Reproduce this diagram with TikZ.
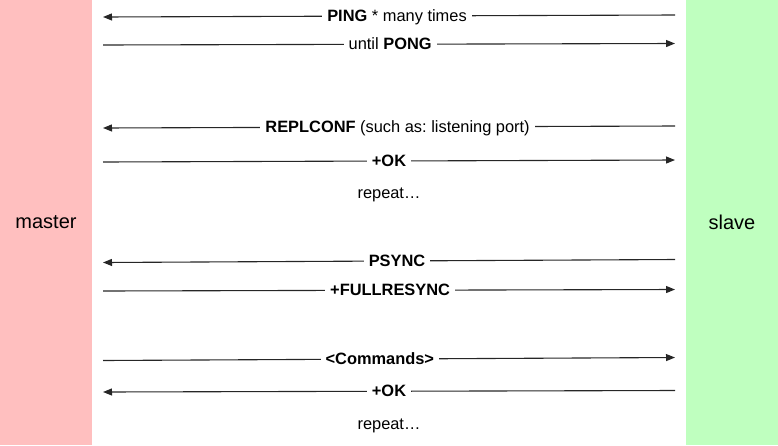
\documentclass[tikz,border=0pt]{standalone}
\usepackage{fontspec}
\setmainfont{Liberation Sans}
\usetikzlibrary{arrows.meta}
\definecolor{masterpink}{RGB}{255,191,191}
\definecolor{slavegreen}{RGB}{191,255,191}
\frenchspacing
\begin{document}
\begin{tikzpicture}[x=1pt,y=-1pt,
  lane/.style={draw=none, minimum width=92pt, minimum height=445pt, inner sep=0pt,
    font=\fontsize{20}{23}\selectfont},
  msg/.style={line width=1.1pt, draw=black!85},
  tomaster/.style={msg, {Triangle[length=9pt,width=7pt]}-},
  toslave/.style={msg, -{Triangle[length=9pt,width=7pt]}},
  lbl/.style={fill=white, inner xsep=5pt, inner ysep=2pt, text height=11pt, text depth=0pt,
    font=\fontsize{16.4}{19}\selectfont, text=black},
  note/.style={font=\fontsize{16.4}{19}\selectfont, text=black}]
\useasboundingbox (0,0) rectangle (778,445);

% the two parties
\node[lane, fill=masterpink] (master) at (46,222.5) {master};
\node[lane, fill=slavegreen] (slave) at (732,222.5) {slave};

% message end points on the master side (m) and the slave side (s)
\coordinate (m1) at (103,17);   \coordinate (s1) at (675,15);
\coordinate (m2) at (103,45);   \coordinate (s2) at (675,43.5);
\coordinate (m3) at (103,128);  \coordinate (s3) at (675,126);
\coordinate (m4) at (103,162);  \coordinate (s4) at (675,160);
\coordinate (m5) at (103,262.5);\coordinate (s5) at (675,259.5);
\coordinate (m6) at (103,291);  \coordinate (s6) at (675,289.5);
\coordinate (m7) at (103,360.5);\coordinate (s7) at (675,357.5);
\coordinate (m8) at (103,392);  \coordinate (s8) at (675,390.5);

% handshake
\draw[tomaster] (m1) -- node[lbl, pos=0.514] {\textbf{PING} * many times} (s1);
\draw[toslave]  (m2) -- node[lbl, pos=0.502] {until \textbf{PONG}} (s2);

% configuration
\draw[tomaster] (m3) -- node[lbl, pos=0.515] {\textbf{REPLCONF} (such as: listening port)} (s3);
\draw[toslave]  (m4) -- node[lbl, pos=0.5] {\textbf{+OK}} (s4);
\node[note] (rep1) at (389,195) {repeat\ldots};

% synchronisation
\draw[tomaster] (m5) -- node[lbl, pos=0.514] {\textbf{PSYNC}} (s5);
\draw[toslave]  (m6) -- node[lbl, pos=0.502] {\textbf{+FULLRESYNC}} (s6);

% command propagation
\draw[toslave]  (m7) -- node[lbl, pos=0.484] {\textbf{<Commands>}} (s7);
\draw[tomaster] (m8) -- node[lbl, pos=0.5] {\textbf{+OK}} (s8);
\node[note] (rep2) at (389,426) {repeat\ldots};
\end{tikzpicture}
\end{document}
